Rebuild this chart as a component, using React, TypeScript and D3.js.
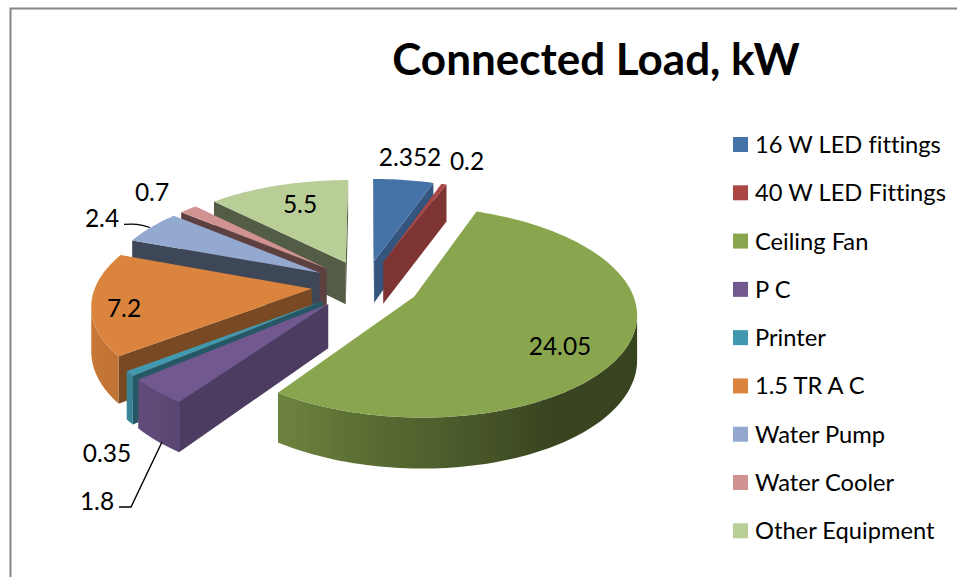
import * as d3 from 'd3';
import React from 'react';

const title = 'Connected Load, kW';
const categories = ['16 W LED fittings', '40 W LED Fittings', 'Ceiling Fan', 'P C', 'Printer', '1.5 TR A C', 'Water Pump', 'Water Cooler', 'Other Equipment'];
const loads = [2.352, 0.2, 24.05, 1.8, 0.35, 7.2, 2.4, 0.7, 5.5];
const loadLabels = ['2.352', '0.2', '24.05', '1.8', '0.35', '7.2', '2.4', '0.7', '5.5'];
const colors = ['#4572a7', '#aa4643', '#89a54e', '#71588f', '#4198af', '#db843d', '#93a9cf', '#d19392', '#b9cd96'];

// label spots, same order as categories
const labelX = [410, 467, 560, 97, 107, 124, 102, 152, 300];
const labelY = [156, 160, 345, 500, 452, 307, 217, 191, 203];

const width = 957;
const height = 577;
const cx = 365.5;
const cy = 285;
const radiusX = 216;
const radiusY = 100;
const perspective = 0.141;
const thickness = 43;
const explode = 0.25;
const fontFamily = 'Lato, Carlito, sans-serif';

// unit-disc point -> screen, rear of the pie gets smaller
const project = (u: number, v: number, drop = 0): [number, number] => {
  const s = 1 / (1 - perspective * v);
  return [cx + radiusX * u * s, cy + radiusY * v * s + thickness * s * drop];
};

const wallShade = d3.scaleLinear().domain([90, 150, 185, 215, 235, 270, 320]).range([0.4, 0.42, 0.62, 0.8, 0.88, 0.95, 0.95]).clamp(true);
const sideShade = d3.scaleLinear().domain([109, 125, 142, 200, 225]).range([0.75, 0.68, 0.55, 0.42, 0.45]).clamp(true);
const shade = (color: string, f: number) => d3.interpolateRgb('#000', color)(f);
const deg = (a: number) => (a * 180) / Math.PI;

const line = d3.line();

const pieAngles = d3.pie<number>().sort(null).value((d) => d)(loads);

const slices = pieAngles.map((p, i) => {
  const mid = (p.startAngle + p.endAngle) / 2;
  const ox = explode * Math.sin(mid);
  const oy = -explode * Math.cos(mid);
  const steps = Math.max(2, Math.ceil(deg(p.endAngle - p.startAngle) / 1.5));
  const angles = d3.range(steps + 1).map((k) => p.startAngle + ((p.endAngle - p.startAngle) * k) / steps);
  const rim = angles.map((a) => [ox + Math.sin(a), oy - Math.cos(a)]);
  const color = colors[i];
  const quad = (a: number[], b: number[]) =>
    line([project(a[0], a[1]), project(b[0], b[1]), project(b[0], b[1], 1), project(a[0], a[1], 1)]) + 'Z';

  const faces: { d: string; fill: string }[] = [];
  const apex = [ox, oy];
  const first = rim[0];
  const last = rim[rim.length - 1];
  // a wall shows only when its top edge runs leftwards on screen
  if (project(first[0], first[1])[0] < project(apex[0], apex[1])[0]) {
    faces.push({ d: quad(apex, first), fill: shade(color, sideShade(deg(p.startAngle) - 90)) });
  }
  if (project(apex[0], apex[1])[0] < project(last[0], last[1])[0]) {
    faces.push({ d: quad(last, apex), fill: shade(color, sideShade(deg(p.endAngle) + 90)) });
  }

  // outer wall: one path, shaded along x with a gradient
  const shown = d3.range(rim.length).filter((k) => {
    const x = project(rim[k][0], rim[k][1])[0];
    const prev = k > 0 ? project(rim[k - 1][0], rim[k - 1][1])[0] : -Infinity;
    const next = k < rim.length - 1 ? project(rim[k + 1][0], rim[k + 1][1])[0] : Infinity;
    return next < x || x < prev;
  });
  let wall = null as null | { d: string; x1: number; x2: number; stops: { offset: number; color: string }[] };
  if (shown.length > 1) {
    const upper = shown.map((k) => project(rim[k][0], rim[k][1]));
    const lower = shown.map((k) => project(rim[k][0], rim[k][1], 1)).reverse();
    const x1 = upper[0][0];
    const x2 = upper[upper.length - 1][0];
    wall = {
      d: line([...upper, ...lower]) + 'Z',
      x1,
      x2,
      stops: shown.map((k, j) => ({
        offset: (upper[j][0] - x1) / (x2 - x1),
        color: shade(color, wallShade(deg(angles[k]))),
      })),
    };
  }
  const top = line([apex, ...rim].map((q) => project(q[0], q[1]))) + 'Z';
  return { i, depth: oy, faces, wall, top, color };
});

const drawOrder = d3.range(slices.length).sort((a, b) => d3.ascending(slices[a].depth, slices[b].depth));

const legendY = d3.scalePoint<string>().domain(categories).range([144.5, 530.8]);

const curve = d3.line().curve(d3.curveCatmullRom);

export default function App() {
  return (
    <svg width={width} height={height} style={{ position: 'absolute', left: 0, top: 0, fontVariantLigatures: 'none' }} fontFamily={fontFamily}>
      <defs>
        {slices.map((s) =>
          s.wall ? (
            <linearGradient key={s.i} id={`wall-${s.i}`} gradientUnits="userSpaceOnUse" x1={s.wall.x1} x2={s.wall.x2} y1={0} y2={0}>
              {s.wall.stops.map((st, k) => (
                <stop key={k} offset={st.offset} stopColor={st.color} />
              ))}
            </linearGradient>
          ) : null
        )}
      </defs>
      <rect width={width} height={height} fill="#fff" />
      <path d="M10.5,577V8.5H957" fill="none" stroke="#868686" strokeWidth={2} />

      <text x={596} y={75} textAnchor="middle" fontSize={44} fontWeight={700} fill="#000">
        {title}
      </text>

      {drawOrder.map((idx) => {
        const s = slices[idx];
        return (
          <g key={categories[s.i]}>
            {s.faces.map((f, k) => (
              <path key={k} d={f.d} fill={f.fill} />
            ))}
            {s.wall ? <path d={s.wall.d} fill={`url(#wall-${s.i})`} /> : null}
            <path d={s.top} fill={s.color} />
          </g>
        );
      })}

      <path d={curve([[124, 224.3], [137, 224.3], [150, 227.5]]) ?? ''} fill="none" stroke="#000" strokeWidth={1.2} />
      <path d={line([[119, 507], [131, 507], [162, 442]]) ?? ''} fill="none" stroke="#000" strokeWidth={1.4} />

      {loadLabels.map((t, i) => (
        <text key={i} x={labelX[i]} y={labelY[i]} textAnchor="middle" dominantBaseline="central" fontSize={24.5} fill="#000">
          {t}
        </text>
      ))}

      {categories.map((c, i) => (
        <g key={c} transform={`translate(733,${legendY(c)})`}>
          <rect y={-7.5} width={15} height={15} fill={colors[i]} />
          <text x={22} y={-0.5} dominantBaseline="central" fontSize={23.7} fill="#000">
            {c}
          </text>
        </g>
      ))}
    </svg>
  );
}
